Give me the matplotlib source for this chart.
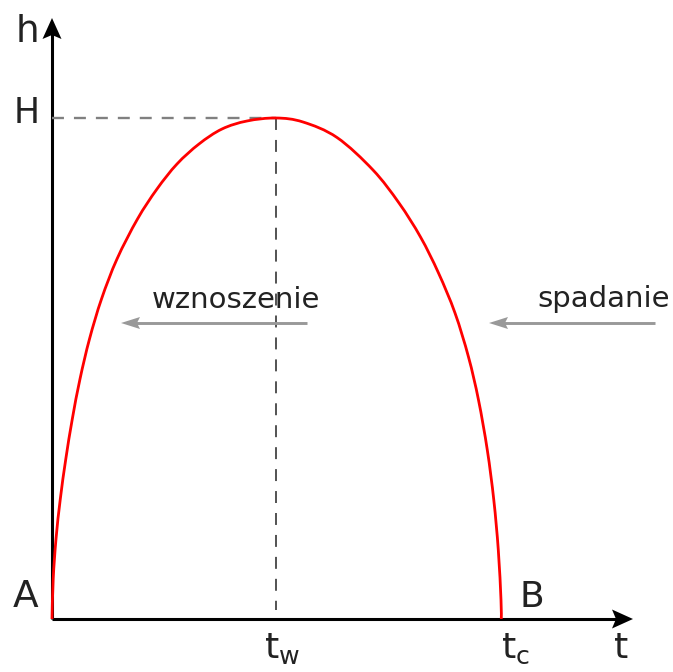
import matplotlib
matplotlib.use("Agg")
import matplotlib.pyplot as plt
from matplotlib.path import Path
from matplotlib.patches import PathPatch, Polygon

plt.rcParams['font.family'] = ['DejaVu Sans']
plt.rcParams['mathtext.fontset'] = 'dejavusans'
plt.rcParams['lines.scale_dashes'] = False

# Trajectory h(t) (t: time units, h: height units)
t_vals = [0, 1.2, 4, 8.3, 13.8, 20.3, 28, 37.5, 49.5, 65, 85.5, 105, 125, 147, 170, 195,
          224,
          251, 285, 321, 347, 368.5, 386.5, 403, 416.5, 426.5, 435.3, 441.8, 446.3, 449, 449.3]
h_vals = [0, 40, 80, 120, 160, 200, 240, 280, 320, 360, 400, 430, 455, 475, 490, 498,
          501,
          497, 481.5, 449, 416, 382, 346, 306, 262, 219, 169, 119, 69, 19, 0]

t_w = 224      # time of reaching max height
t_c = 449      # total time
H = 501        # max height
t_axis_end = 581
h_axis_end = 601

fig = plt.figure(figsize=(6.73, 6.72), dpi=100)
ax = fig.add_axes([0, 0, 1, 1])
ax.set_xlim(-52, 621)
ax.set_ylim(-53, 619)
ax.axis('off')


def head(tip, direction, length, half_w, notch, color):
    """stealth arrowhead polygon at tip pointing along direction (unit vector)"""
    dx, dy = direction
    px, py = -dy, dx
    tx, ty = tip
    bx, by = tx - dx * length, ty - dy * length
    verts = [(tx, ty),
             (bx + px * half_w, by + py * half_w),
             (bx + dx * notch, by + dy * notch),
             (bx - px * half_w, by - py * half_w)]
    ax.add_patch(Polygon(verts, closed=True, facecolor=color, edgecolor='none', zorder=4))


# axes
ax.plot([0, t_axis_end - 10], [0, 0], color='black', lw=2.2, solid_capstyle='butt')
ax.plot([0, 0], [0, h_axis_end - 10], color='black', lw=2.2, solid_capstyle='butt')
head((t_axis_end, 0), (1, 0), 21, 9.5, 4, 'black')
head((0, h_axis_end), (0, 1), 21, 9.5, 4, 'black')

# dashed guide lines
ax.plot([0, t_w], [H, H], color='#808080', lw=1.7, dashes=(8.6, 7.2))
ax.plot([t_w, t_w], [H, 9], color='#444444', lw=1.3, dashes=(8.6, 7.2))

# trajectory, drawn as a smooth curve through the read points (Catmull-Rom -> Bezier)
pts = list(zip(t_vals, h_vals))
verts = [pts[0]]
codes = [Path.MOVETO]
n = len(pts)
for i in range(n - 1):
    p0 = pts[i - 1] if i > 0 else pts[i]
    p1 = pts[i]
    p2 = pts[i + 1]
    p3 = pts[i + 2] if i + 2 < n else pts[i + 1]
    c1 = (p1[0] + (p2[0] - p0[0]) / 6, p1[1] + (p2[1] - p0[1]) / 6)
    c2 = (p2[0] - (p3[0] - p1[0]) / 6, p2[1] - (p3[1] - p1[1]) / 6)
    verts += [c1, c2, p2]
    codes += [Path.CURVE4] * 3
ax.add_patch(PathPatch(Path(verts, codes), facecolor='none', edgecolor='#ff0000',
                       lw=2.0, capstyle='butt', joinstyle='round', zorder=3))

# gray direction arrows
for x0, x1 in [(255, 69), (603, 437)]:
    ax.plot([x1 + 12, x0], [296, 296], color='#999999', lw=2.1, solid_capstyle='butt')
    head((x1, 296), (-1, 0), 19, 6, 3, '#999999')

txt = '#222222'
ax.text(184, 311, 'wznoszenie', fontsize=21, color=txt, ha='center', va='baseline')
ax.text(551.5, 312, 'spadanie', fontsize=21, color=txt, ha='center', va='baseline')

ax.text(-25, 577, 'h', fontsize=27, color=txt, ha='center', va='baseline')
ax.text(-25.5, 496, 'H', fontsize=25, color=txt, ha='center', va='baseline')
ax.text(-26.5, 12, 'A', fontsize=27, color=txt, ha='center', va='baseline')
ax.text(480, 12, 'B', fontsize=26, color=txt, ha='center', va='baseline')
ax.text(569.5, -39, 't', fontsize=26, color=txt, ha='center', va='baseline')
ax.text(212, -39, r'$\mathregular{t_w}$', fontsize=26, color=txt, ha='left', va='baseline')
ax.text(449, -39, r'$\mathregular{t_c}$', fontsize=26, color=txt, ha='left', va='baseline')

fig.savefig('out.png', dpi=100, facecolor='white')
